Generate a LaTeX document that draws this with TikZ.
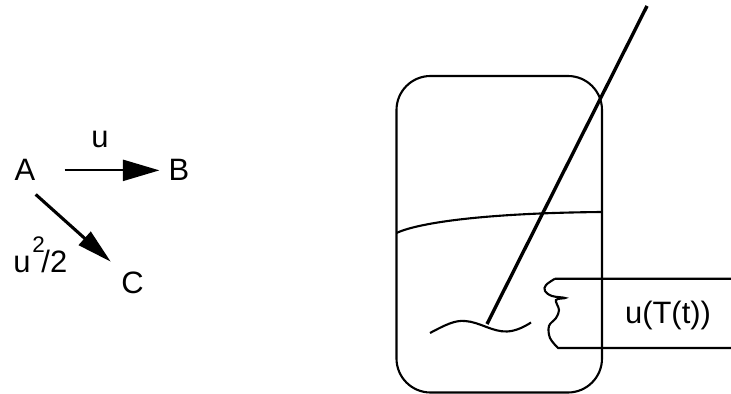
\documentclass[tikz,border=0pt]{standalone}
\usepackage{fontspec}
\setmainfont{Liberation Sans}
\usetikzlibrary{arrows.meta}
\begin{document}
\begin{tikzpicture}[x=0.025cm,y=-0.025cm,>=stealth]
\tikzset{
    lbl/.style={font=\fontsize{22pt}{24pt}\selectfont,inner sep=0pt,anchor=base},
    flow/.style={-{Triangle[length=26pt,width=15pt]},line width=1.5pt},
    flowthick/.style={-{Triangle[length=25pt,width=12.5pt]},line width=2.2pt},
    wall/.style={line width=1.5pt},
    rod/.style={line width=2.4pt}
}
\useasboundingbox (0,0) rectangle (731,394);
% left scheme
\node[lbl] (A) at (25,181) {A};
\node[lbl] (B) at (179,181) {B};
\node[lbl] (C) at (132.5,293) {C};
\node[lbl] (uAB) at (100,147) {u};
\node[lbl,anchor=base west] (uAC) at (13,272) {u\hspace{1.4pt}\rlap{\raisebox{14.2pt}{\fontsize{16pt}{18pt}\selectfont 2}}\hspace{6.4pt}/2};
\draw[flow,shorten <=20.6pt,shorten >=6.4pt] (A.east) -- (B.west);
\draw[flowthick,shorten <=14pt,shorten >=10pt] (A.250) -- (C.135);
% vessel
\draw[wall,rounded corners=0.85cm] (396.5,76) rectangle (602,392.5);
\draw[wall] (396.5,233) .. controls (420,222) and (490,213) .. (602,212);
\draw[rod] (647,6) -- (487,324);
\draw[wall] (430,333) .. controls (445,325) and (455,320) .. (465,321) .. controls (480,322) and (492,332) .. (507,331.5) .. controls (516,331) and (524,327) .. (531,322.5);
% tube
\draw[wall] (731,278.7) -- (555,278.7) plot[smooth,tension=0.6] coordinates {(555,278.7) (546,285) (545,291) (552,296) (565,298) (556,300) (559,310) (556,318) (549,326) (550,338) (558,348)} -- (731,348);
\node[lbl] (tubelabel) at (668,323) {u(T(t))};
\end{tikzpicture}
\end{document}
